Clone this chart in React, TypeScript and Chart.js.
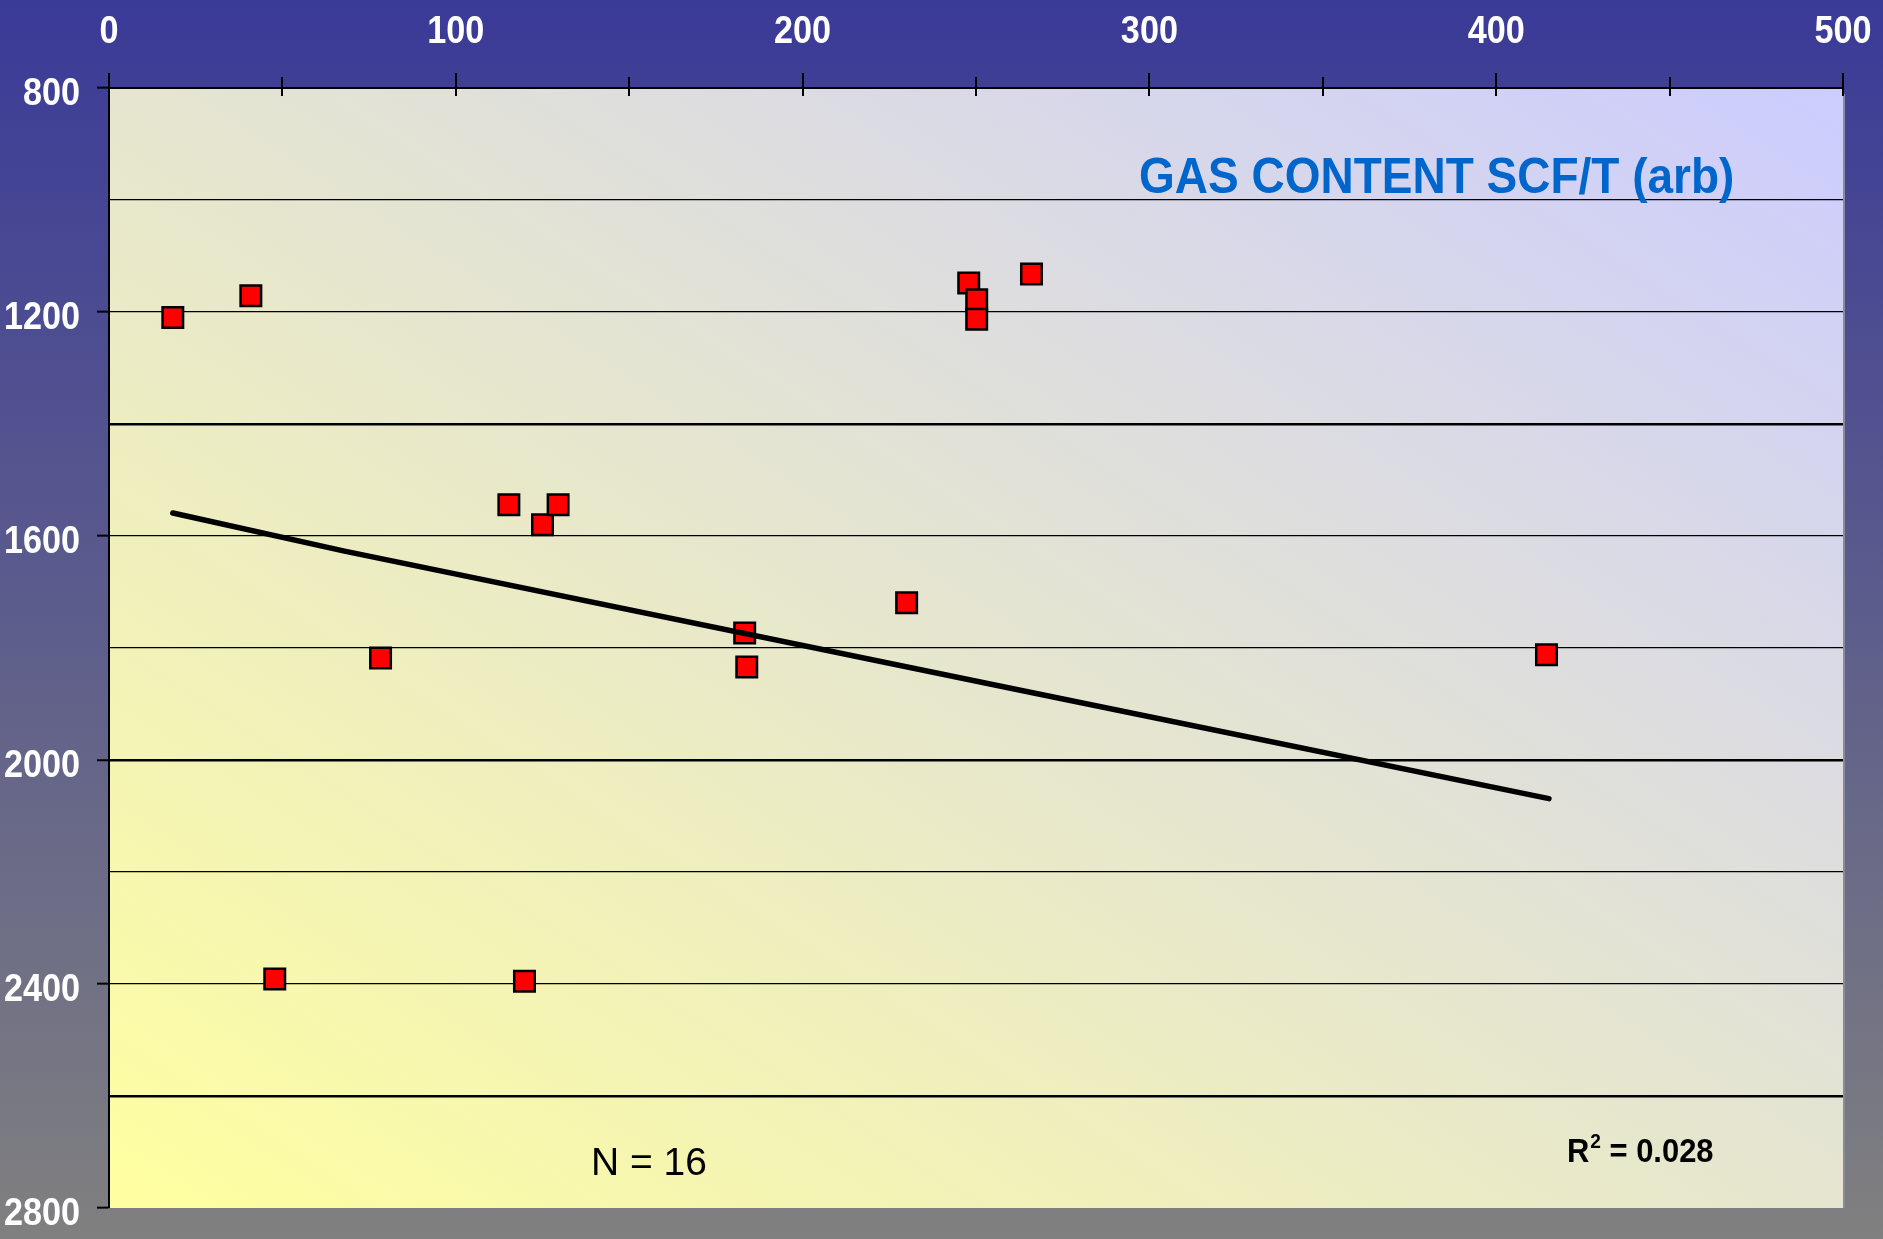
import React, { useEffect, useRef } from 'react';
import { Chart, registerables } from 'chart.js';

Chart.register(...registerables);

// Gas content (SCF/T, arb) and depth for the 16 samples
const gasContent = [18.4, 40.9, 47.8, 78.3, 115.3, 125.0, 129.5, 119.8, 183.3, 183.9, 230.0, 247.9, 250.2, 250.2, 266.0, 414.5];
const depth = [1210, 1171, 2391, 1818, 1544, 1580, 1544, 2395, 1773, 1834, 1719, 1148, 1178, 1213, 1132, 1812];

// Trend line as drawn on the picture
const trendGas = [18.4, 67.9, 266.3, 415.2];
const trendDepth = [1559, 1627, 1880, 2069];

// Axis ranges / tick steps
const xMin = 0;
const xMax = 500;
const xMinorStep = 50;
const xLabelStep = 100;
const yMin = 800;
const yMax = 2800;
const yGridStep = 200;
const yLabelStep = 400;
const yThickGrid = [1400, 2000, 2600];

const titleText = 'GAS CONTENT SCF/T (arb)';
const nText = 'N = 16';
const r2Value = '0.028';

const FONT = '"Liberation Sans", Arial, Helvetica, sans-serif';
const W = 1883;
const H = 1239;

const backgroundPlugin = {
  id: 'bgPlugin',
  beforeDraw(chart: any) {
    const { ctx, chartArea } = chart;
    ctx.save();
    const g = ctx.createLinearGradient(0, 0, 0, H);
    g.addColorStop(0, '#3a3a98');
    g.addColorStop(1, '#808080');
    ctx.fillStyle = g;
    ctx.fillRect(0, 0, W, H);

    const { left, top, right, bottom } = chartArea;
    const w = right - left;
    const h = bottom - top;
    const cx = (left + right) / 2;
    const cy = (top + bottom) / 2;
    const L2 = w * w + h * h;
    const k = (w * h) / L2;
    const g2 = ctx.createLinearGradient(cx - k * h, cy + k * w, cx + k * h, cy - k * w);
    g2.addColorStop(0, '#ffffa0');
    g2.addColorStop(1, '#ccccff');
    ctx.fillStyle = g2;
    ctx.fillRect(left, top, w, h);
    ctx.restore();
  },
};

const overlayPlugin = {
  id: 'overlayPlugin',
  afterDraw(chart: any) {
    const { ctx, chartArea } = chart;
    const xs = chart.scales.x;
    const ys = chart.scales.y;
    ctx.save();
    // right edge shadow line
    ctx.strokeStyle = '#8a8a9a';
    ctx.lineWidth = 2;
    ctx.beginPath();
    ctx.moveTo(chartArea.right + 1, chartArea.top + 6);
    ctx.lineTo(chartArea.right + 1, chartArea.bottom);
    ctx.stroke();

    // x-axis tick marks crossing the top axis
    ctx.strokeStyle = '#000';
    ctx.lineWidth = 2;
    xs.ticks.forEach((t: any) => {
      const px = Math.round(xs.getPixelForValue(t.value));
      const major = t.value % xLabelStep === 0;
      ctx.beginPath();
      ctx.moveTo(px, chartArea.top - (major ? 15 : 11));
      ctx.lineTo(px, chartArea.top + 8);
      ctx.stroke();
    });

    // tick labels (condensed bold white)
    ctx.fillStyle = '#ffffff';
    ctx.font = `bold 38px ${FONT}`;
    ctx.textBaseline = 'alphabetic';
    xs.ticks.forEach((t: any) => {
      if (t.value % xLabelStep !== 0) return;
      const px = xs.getPixelForValue(t.value);
      ctx.save();
      ctx.translate(px, 43);
      ctx.scale(0.9, 1);
      ctx.textAlign = 'center';
      ctx.fillText(String(t.value), 0, 0);
      ctx.restore();
    });
    ys.ticks.forEach((t: any) => {
      if (t.value % yLabelStep !== 0) return;
      const py = ys.getPixelForValue(t.value);
      ctx.save();
      ctx.translate(80, py + 17);
      ctx.scale(0.9, 1);
      ctx.textAlign = 'right';
      ctx.fillText(String(t.value), 0, 0);
      ctx.restore();
    });

    // title
    ctx.fillStyle = '#0066cc';
    ctx.font = `bold 50px ${FONT}`;
    ctx.textAlign = 'left';
    ctx.save();
    ctx.translate(1139, 193);
    ctx.scale(0.92, 1);
    ctx.fillText(titleText, 0, 0);
    ctx.restore();

    // N = 16
    ctx.fillStyle = '#000';
    ctx.font = `39px ${FONT}`;
    ctx.fillText(nText, 591, 1175);

    // R^2 = 0.028
    ctx.save();
    ctx.translate(1567, 1162);
    ctx.scale(0.91, 1);
    ctx.font = `bold 34px ${FONT}`;
    ctx.fillText('R', 0, 0);
    let x = ctx.measureText('R').width + 1;
    ctx.font = `bold 21px ${FONT}`;
    ctx.fillText('2', x, -14);
    x += ctx.measureText('2').width;
    ctx.font = `bold 34px ${FONT}`;
    ctx.fillText(' = ' + r2Value, x, 0);
    ctx.restore();

    ctx.restore();
  },
};

export default function App() {
  const ref = useRef<HTMLCanvasElement | null>(null);

  useEffect(() => {
    document.body.style.margin = '0';
    const canvas = ref.current;
    if (!canvas) return;
    const points = gasContent.map((g, i) => ({ x: g, y: depth[i] }));
    const trend = trendGas.map((g, i) => ({ x: g, y: trendDepth[i] }));

    const chart = new Chart(canvas, {
      type: 'scatter',
      data: {
        datasets: [
          {
            label: 'Trend',
            data: trend,
            showLine: true,
            borderColor: '#000',
            borderWidth: 5.5,
            borderCapStyle: 'round',
            borderJoinStyle: 'round',
            pointRadius: 0,
            fill: false,
          } as any,
          {
            label: 'Samples',
            data: points,
            pointStyle: 'rect',
            pointRadius: 14.5,
            backgroundColor: '#ff0000',
            borderColor: '#000',
            borderWidth: 2.5,
          },
        ],
      },
      options: {
        animation: false,
        responsive: false,
        devicePixelRatio: 1,
        layout: { padding: { left: 0, top: 0, right: 40, bottom: 31 } },
        plugins: {
          legend: { display: false },
          tooltip: { enabled: false },
        },
        scales: {
          x: {
            type: 'linear',
            position: 'top',
            min: xMin,
            max: xMax,
            afterFit: (s: any) => {
              s.height = 88;
              s.paddingLeft = 0;
              s.paddingRight = 0;
            },
            ticks: {
              display: false,
              stepSize: xMinorStep,
              autoSkip: false,
              padding: 0,
            },
            grid: {
              drawOnChartArea: false,
              drawTicks: false,
              color: 'rgba(0,0,0,0)',
            },
            border: { color: '#000', width: 2 },
          },
          y: {
            type: 'linear',
            reverse: true,
            min: yMin,
            max: yMax,
            afterFit: (s: any) => {
              s.width = 109;
              s.paddingTop = 0;
              s.paddingBottom = 0;
            },
            ticks: {
              display: false,
              stepSize: yGridStep,
              autoSkip: false,
              padding: 0,
            },
            grid: {
              drawTicks: true,
              tickLength: 12,
              tickWidth: 2,
              tickColor: (c: any) => (c.tick && c.tick.value % yLabelStep === 0 ? '#000' : 'rgba(0,0,0,0)'),
              color: (c: any) => {
                const v = c.tick ? c.tick.value : 0;
                return v === yMin || v === yMax ? 'rgba(0,0,0,0)' : '#000';
              },
              lineWidth: (c: any) => (c.tick && yThickGrid.includes(c.tick.value) ? 2.5 : 1.3),
            },
            border: { color: '#000', width: 2 },
          },
        },
      },
      plugins: [backgroundPlugin, overlayPlugin],
    });
    return () => chart.destroy();
  }, []);

  return <canvas ref={ref} width={W} height={H} style={{ display: 'block', width: W, height: H }} />;
}
